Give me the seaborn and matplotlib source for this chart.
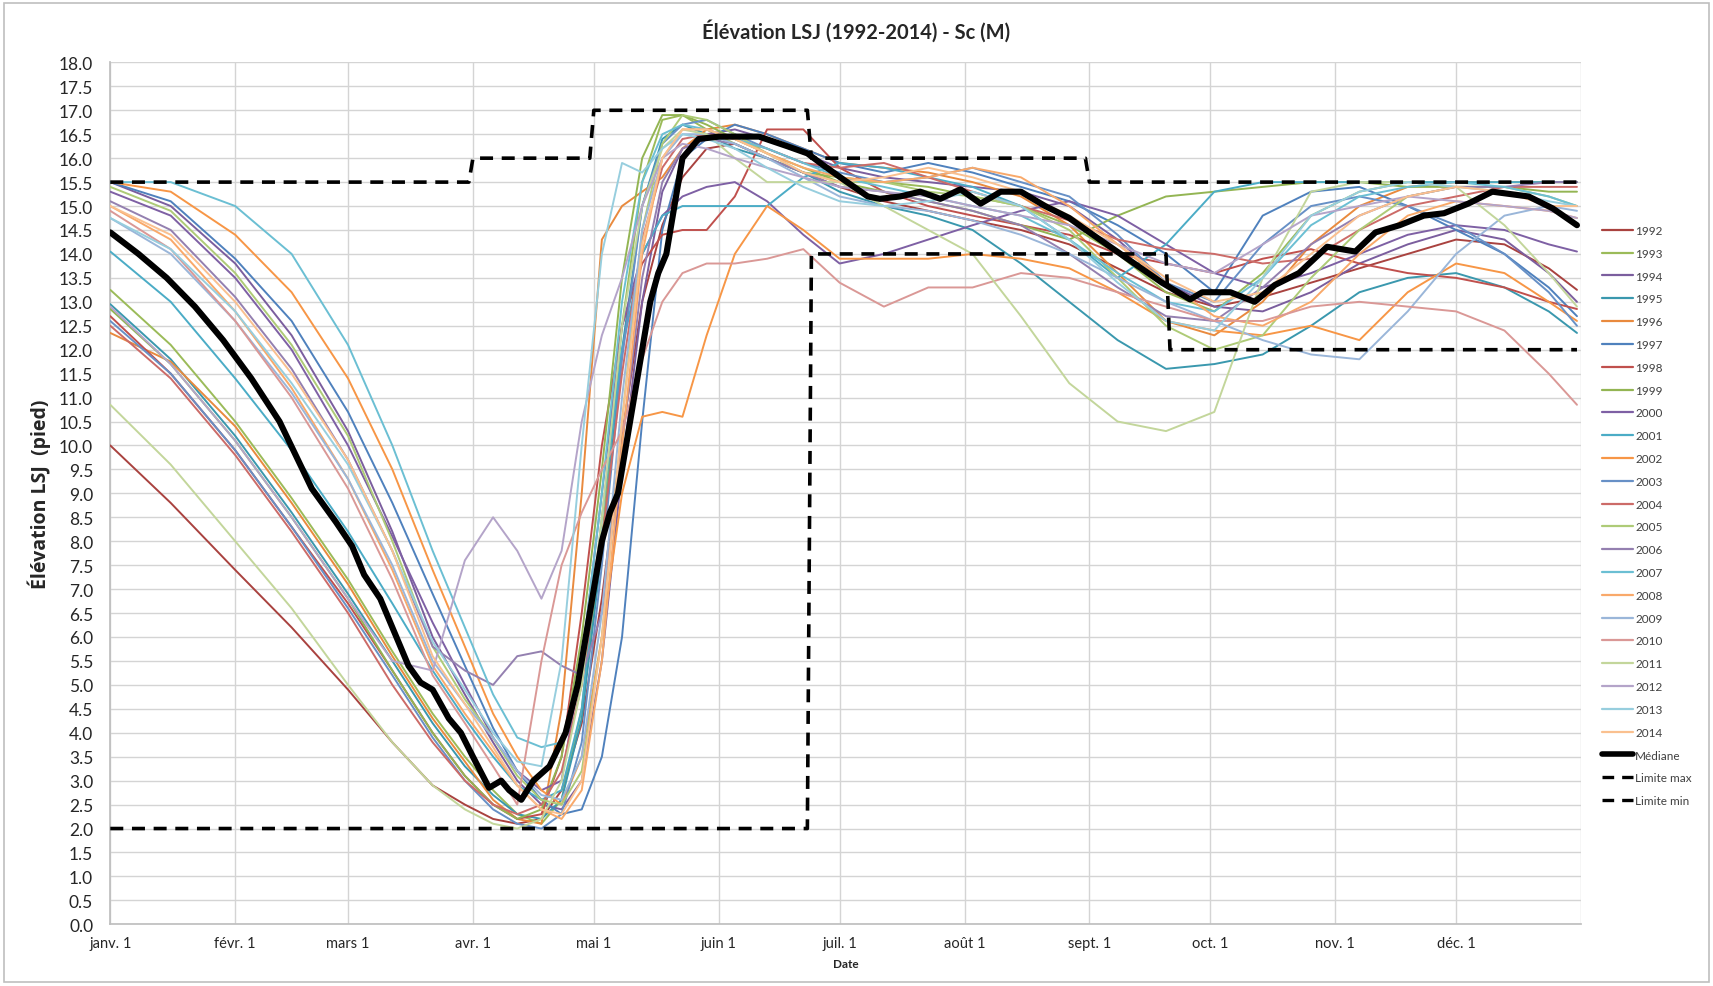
import numpy as np
import pandas as pd
import matplotlib
matplotlib.use("Agg")
import matplotlib.pyplot as plt
from matplotlib.lines import Line2D
from matplotlib.patches import Rectangle
import seaborn as sns

# ---------------- data ----------------
DAYS = [0, 15, 31, 45, 59, 70, 80, 88, 95, 101, 107, 112, 117, 122, 127, 132, 137, 142, 148, 155,
        163, 172, 181, 192, 203, 214, 226, 238, 250, 262, 274, 286, 298, 310, 322, 334, 346, 357, 364]

y1992 = [10.0, 8.8, 7.4, 6.2, 4.9, 3.8, 2.9, 2.5, 2.2, 2.1, 2.2, 2.8, 4.2, 6.8, 10.2, 13.0, 14.6, 15.6, 16.2, 16.3,
         16.0, 15.7, 15.4, 15.1, 14.9, 14.7, 14.5, 14.2, 13.7, 13.2, 12.9, 13.1, 13.4, 13.7, 14.0, 14.3, 14.2, 13.7, 13.25]
y1993 = [13.25, 12.1, 10.5, 8.9, 7.2, 5.7, 4.4, 3.5, 2.8, 2.3, 2.1, 2.6, 4.5, 8.0, 12.5, 15.5, 16.8, 16.9, 16.6, 16.3,
         16.0, 15.7, 15.6, 15.5, 15.4, 15.2, 15.0, 14.6, 14.0, 13.2, 12.8, 13.6, 14.8, 15.3, 15.5, 15.5, 15.5, 15.5, 15.5]
y1994 = [15.5, 15.0, 13.8, 12.3, 10.3, 8.2, 6.0, 4.8, 3.8, 3.0, 2.5, 2.4, 3.0, 5.5, 9.5, 13.0, 15.3, 16.2, 16.5, 16.6,
         16.4, 16.1, 15.8, 15.6, 15.5, 15.4, 15.3, 15.0, 14.3, 13.4, 12.9, 12.8, 13.2, 13.8, 14.2, 14.5, 14.3, 13.6, 13.0]
y1995 = [12.95, 11.8, 10.2, 8.6, 6.9, 5.5, 4.2, 3.3, 2.7, 2.3, 2.2, 2.6, 4.3, 7.8, 12.0, 15.0, 16.4, 16.7, 16.5, 16.2,
         16.0, 15.7, 15.3, 15.0, 14.8, 14.5, 13.8, 13.0, 12.2, 11.6, 11.7, 11.9, 12.5, 13.2, 13.5, 13.6, 13.3, 12.8, 12.35]
y1996 = [12.35, 11.75, 10.4, 8.8, 7.1, 5.6, 4.3, 3.4, 2.6, 2.2, 2.1, 4.5, 9.0, 14.3, 15.0, 15.3, 15.6, 16.2, 16.6, 16.7,
         16.5, 16.2, 15.9, 15.8, 15.7, 15.5, 15.2, 14.6, 13.6, 12.6, 12.3, 13.0, 14.2, 15.0, 15.4, 15.5, 15.5, 15.5, 15.5]
y1997 = [15.5, 15.1, 13.9, 12.6, 10.7, 8.8, 6.9, 5.4, 4.1, 3.2, 2.6, 2.3, 2.4, 3.5, 6.0, 10.5, 14.5, 16.0, 16.4, 16.7,
         16.5, 16.2, 15.9, 15.7, 15.9, 15.7, 15.4, 15.1, 14.6, 14.0, 13.2, 14.8, 15.3, 15.4, 15.0, 14.5, 14.0, 13.3, 12.7]
y1998 = [12.7, 11.5, 9.9, 8.3, 6.7, 5.3, 4.0, 3.1, 2.5, 2.2, 2.3, 3.5, 6.5, 10.0, 12.5, 13.8, 14.4, 14.5, 14.5, 15.2,
         16.6, 16.6, 15.8, 15.3, 15.0, 14.8, 14.6, 14.4, 14.0, 13.8, 13.6, 13.9, 14.1, 13.8, 13.6, 13.5, 13.3, 13.0, 12.85]
y1999 = [12.85, 11.7, 10.1, 8.5, 6.8, 5.3, 4.0, 3.1, 2.5, 2.2, 2.4, 3.5, 6.0, 9.5, 13.5, 16.0, 16.9, 16.9, 16.7, 16.4,
         16.1, 15.8, 15.5, 15.3, 15.1, 14.9, 14.6, 14.3, 14.8, 15.2, 15.3, 15.4, 15.5, 15.5, 15.4, 15.4, 15.4, 15.3, 15.3]
y2000 = [15.3, 14.8, 13.5, 12.0, 10.0, 8.1, 6.3, 5.0, 3.9, 3.2, 2.8, 3.0, 5.5, 9.0, 12.5, 14.0, 14.8, 15.2, 15.4, 15.5,
         15.1, 14.4, 13.8, 14.0, 14.3, 14.6, 14.9, 15.1, 14.8, 14.2, 13.6, 13.3, 13.6, 14.0, 14.4, 14.6, 14.5, 14.2, 14.05]
y2001 = [14.05, 13.0, 11.4, 9.9, 8.2, 6.7, 5.3, 4.3, 3.5, 2.9, 2.6, 2.8, 4.5, 8.5, 12.0, 14.0, 14.8, 15.0, 15.0, 15.0,
         15.0, 15.6, 15.9, 15.8, 15.6, 15.4, 15.0, 14.3, 13.5, 14.2, 15.3, 15.5, 15.5, 15.5, 15.5, 15.5, 15.5, 15.5, 15.5]
y2002 = [15.5, 15.3, 14.4, 13.2, 11.4, 9.5, 7.4, 5.8, 4.4, 3.5, 2.8, 2.5, 3.5, 6.0, 9.0, 10.6, 10.7, 10.6, 12.3, 14.0,
         15.0, 14.5, 13.9, 13.9, 13.9, 14.0, 13.9, 13.7, 13.2, 12.6, 12.4, 12.3, 12.5, 12.2, 13.2, 13.8, 13.6, 13.0, 12.6]
y2003 = [12.6, 11.5, 9.9, 8.3, 6.6, 5.2, 3.9, 3.0, 2.4, 2.1, 2.0, 2.3, 3.8, 7.5, 11.8, 15.0, 16.3, 16.7, 16.8, 16.5,
         16.2, 15.9, 15.7, 15.5, 15.6, 15.8, 15.5, 15.2, 14.4, 13.4, 13.0, 14.2, 15.0, 15.2, 15.0, 14.6, 14.0, 13.2, 12.5]
y2004 = [12.5, 11.4, 9.8, 8.2, 6.5, 5.0, 3.8, 3.0, 2.5, 2.3, 2.5, 3.2, 5.0, 8.0, 11.5, 14.3, 15.8, 16.4, 16.5, 16.4,
         16.2, 15.9, 15.8, 15.9, 15.6, 15.3, 15.0, 14.7, 14.3, 14.1, 14.0, 13.8, 13.9, 14.5, 15.0, 15.2, 15.4, 15.4, 15.4]
y2005 = [15.4, 14.9, 13.6, 12.1, 10.2, 8.0, 5.8, 4.7, 3.9, 3.1, 2.6, 2.5, 3.2, 6.0, 10.5, 14.5, 16.3, 16.9, 16.8, 16.5,
         16.1, 15.7, 15.5, 15.5, 15.3, 15.2, 15.0, 14.5, 13.5, 12.5, 12.0, 12.3, 13.5, 14.5, 15.2, 15.4, 15.4, 15.2, 15.0]
y2006 = [15.1, 14.5, 13.1, 11.6, 9.7, 7.8, 5.8, 5.3, 5.0, 5.6, 5.7, 5.4, 5.2, 6.5, 10.0, 13.5, 15.5, 16.2, 16.4, 16.3,
         16.0, 15.7, 15.4, 15.3, 15.1, 14.9, 14.6, 14.0, 13.3, 12.7, 12.6, 13.3, 14.2, 14.8, 15.2, 15.4, 15.4, 15.5, 15.5]
y2007 = [15.5, 15.5, 15.0, 14.0, 12.1, 10.0, 7.8, 6.2, 4.8, 3.9, 3.7, 3.8, 5.5, 9.0, 13.0, 15.5, 16.5, 16.7, 16.6, 16.4,
         16.2, 15.9, 15.6, 15.4, 15.2, 15.0, 14.8, 14.3, 13.6, 13.0, 12.8, 13.5, 14.6, 15.2, 15.4, 15.5, 15.4, 15.2, 15.0]
y2008 = [15.0, 14.3, 12.8, 11.2, 9.3, 7.4, 5.4, 4.4, 3.6, 2.9, 2.4, 2.2, 2.8, 5.5, 10.0, 14.0, 16.0, 16.6, 16.6, 16.4,
         16.1, 15.8, 15.6, 15.5, 15.6, 15.8, 15.6, 15.0, 14.2, 13.4, 12.7, 12.5, 13.0, 14.0, 14.8, 15.1, 15.0, 14.9, 14.75]
y2009 = [14.75, 14.0, 12.6, 11.1, 9.3, 7.5, 5.5, 4.6, 3.9, 3.2, 2.7, 2.6, 3.5, 6.5, 11.0, 14.5, 16.0, 16.5, 16.5, 16.3,
         16.0, 15.6, 15.2, 15.0, 14.9, 14.7, 14.4, 14.0, 13.5, 13.0, 12.6, 12.2, 11.9, 11.8, 12.8, 14.0, 14.8, 15.0, 14.9]
y2010 = [14.9, 14.1, 12.6, 11.0, 9.1, 7.2, 5.2, 4.2, 3.3, 2.5, 5.5, 7.5, 8.6, 9.5, 10.3, 11.8, 13.0, 13.6, 13.8, 13.8,
         13.9, 14.1, 13.4, 12.9, 13.3, 13.3, 13.6, 13.5, 13.2, 12.9, 12.6, 12.6, 12.9, 13.0, 12.9, 12.8, 12.4, 11.5, 10.85]
y2011 = [10.85, 9.6, 8.0, 6.6, 5.0, 3.8, 2.9, 2.4, 2.1, 2.0, 2.2, 3.0, 5.0, 8.5, 12.5, 15.0, 16.2, 16.6, 16.5, 16.0,
         15.5, 15.5, 15.5, 15.0, 14.5, 14.0, 12.7, 11.3, 10.5, 10.3, 10.7, 13.5, 15.3, 15.5, 15.5, 15.4, 14.6, 13.6, 12.9]
y2012 = [12.9, 11.7, 10.1, 8.5, 6.8, 5.5, 5.3, 7.6, 8.5, 7.8, 6.8, 7.8, 10.5, 12.3, 13.5, 15.0, 16.0, 16.3, 16.2, 16.0,
         15.8, 15.6, 15.4, 15.3, 15.2, 15.0, 14.8, 14.6, 14.2, 13.8, 13.6, 14.2, 14.8, 15.0, 15.2, 15.1, 15.0, 14.9, 14.75]
y2013 = [14.75, 14.1, 12.8, 11.3, 9.6, 7.8, 5.9, 4.9, 4.0, 3.4, 3.3, 5.5, 10.0, 14.0, 15.9, 15.7, 16.2, 16.5, 16.4, 16.2,
         15.8, 15.4, 15.1, 15.0, 15.1, 15.3, 15.0, 14.3, 13.4, 12.6, 12.4, 13.5, 14.8, 15.3, 15.5, 15.4, 15.3, 15.1, 15.0]
y2014 = [15.0, 14.4, 13.0, 11.5, 9.7, 7.8, 5.6, 4.6, 3.7, 2.9, 2.4, 2.3, 3.0, 6.0, 10.5, 14.2, 16.0, 16.6, 16.6, 16.4,
         16.1, 15.7, 15.5, 15.6, 15.8, 15.6, 15.3, 14.8, 14.2, 13.5, 13.0, 13.2, 14.0, 14.8, 15.2, 15.4, 15.3, 15.0, 15.0]

YEARS = ["1992", "1993", "1994", "1995", "1996", "1997", "1998", "1999", "2000", "2001", "2002", "2003",
         "2004", "2005", "2006", "2007", "2008", "2009", "2010", "2011", "2012", "2013", "2014"]
SERIES = [y1992, y1993, y1994, y1995, y1996, y1997, y1998, y1999, y2000, y2001, y2002, y2003,
          y2004, y2005, y2006, y2007, y2008, y2009, y2010, y2011, y2012, y2013, y2014]

MED_DAYS = [0, 7, 14, 21, 28, 35, 42, 50, 56, 60, 63, 67, 71, 74, 77, 80, 84, 87, 90, 94, 97, 99, 102, 105,
            109, 113, 116, 118, 120, 122, 124, 126, 128, 130, 132, 134, 136, 138, 140, 142, 144, 146, 151, 156,
            161, 168, 173, 177, 182, 188, 191, 196, 201, 206, 211, 216, 221, 226, 232, 238, 243, 249, 255, 261,
            268, 271, 278, 284, 289, 295, 302, 309, 314, 320, 326, 331, 337, 343, 352, 358, 364]
MEDIANE = [14.45, 14.0, 13.5, 12.9, 12.2, 11.4, 10.5, 9.1, 8.4, 7.9, 7.3, 6.8, 6.0, 5.4, 5.05, 4.9, 4.3, 4.0,
           3.5, 2.85, 3.0, 2.8, 2.6, 3.0, 3.3, 4.0, 5.0, 6.0, 7.0, 8.0, 8.6, 9.0, 10.0, 11.0, 12.0, 13.0, 13.6,
           14.0, 15.0, 16.0, 16.2, 16.4, 16.45, 16.45, 16.45, 16.25, 16.1, 15.85, 15.55, 15.2, 15.15, 15.2,
           15.3, 15.15, 15.35, 15.05, 15.3, 15.3, 15.0, 14.75, 14.45, 14.1, 13.75, 13.4, 13.05, 13.2, 13.2,
           13.0, 13.35, 13.6, 14.15, 14.05, 14.45, 14.6, 14.8, 14.85, 15.05, 15.3, 15.2, 14.95, 14.6]

LIM_MAX_DAYS = [0, 89, 90, 119, 120, 173, 174, 242, 243, 364]
LIM_MAX = [15.5, 15.5, 16.0, 16.0, 17.0, 17.0, 16.0, 16.0, 15.5, 15.5]
LIM_MIN_DAYS = [0, 173, 174, 262, 263, 364]
LIM_MIN = [2.0, 2.0, 14.0, 14.0, 12.0, 12.0]

MONTH_DAYS = [0, 31, 59, 90, 120, 151, 181, 212, 243, 273, 304, 334, 365]
MONTH_LABELS = ["janv. 1", "févr. 1", "mars 1", "avr. 1", "mai 1", "juin 1", "juil. 1", "août 1",
                "sept. 1", "oct. 1", "nov. 1", "déc. 1", ""]

COLORS = ["#A9423F", "#9BBB59", "#7B5E9E", "#3A98AE", "#E98A3E", "#4F81BD", "#C0504D", "#93B553",
          "#7E60A4", "#4BACC6", "#F79646", "#6790C6", "#CC6B68", "#AECB77", "#9480B0", "#6BBFD3",
          "#F9A96A", "#9AB6D9", "#DA9896", "#C3D69B", "#B4A4C9", "#97CEDE", "#FAC08F"]

# ---------------- figure ----------------
sns.set_theme(style="white")
plt.rcParams["font.family"] = ["Lato", "DejaVu Sans"]

W, H = 1713, 987
fig = plt.figure(figsize=(W / 100, H / 100), dpi=100)
ax = fig.add_axes([110.3 / W, 1 - 925.3 / H, (1581.0 - 110.3) / W, (925.3 - 63.4) / H])

long = pd.DataFrame({
    "day": np.tile(DAYS, len(YEARS)),
    "value": np.concatenate([np.asarray(s, float) for s in SERIES]),
    "year": np.repeat(YEARS, len(DAYS)),
})
sns.lineplot(data=long, x="day", y="value", hue="year", hue_order=YEARS,
             palette=dict(zip(YEARS, COLORS)), estimator=None, linewidth=1.4,
             legend=False, ax=ax, zorder=3)

sns.lineplot(x=LIM_MAX_DAYS, y=LIM_MAX, color="black", linewidth=2.6, ax=ax,
             estimator=None, zorder=5).lines[-1].set_dashes((3.6, 2.4))
sns.lineplot(x=LIM_MIN_DAYS, y=LIM_MIN, color="black", linewidth=2.6, ax=ax,
             estimator=None, zorder=5).lines[-1].set_dashes((3.6, 2.4))
sns.lineplot(x=MED_DAYS, y=MEDIANE, color="black", linewidth=4.4, ax=ax,
             estimator=None, zorder=6)

ax.set_xlim(0, 365)
ax.set_ylim(0, 18)
ax.set_xticks(MONTH_DAYS)
ax.set_xticklabels(MONTH_LABELS, fontsize=10.5)
ax.set_yticks(np.arange(0, 18.01, 0.5))
ax.set_yticklabels([f"{v:.1f}" for v in np.arange(0, 18.01, 0.5)], fontsize=12.5)
ax.grid(True, color="#D4D4D4", linewidth=1.0, zorder=0)
ax.set_axisbelow(True)
for s in ax.spines.values():
    s.set_visible(False)
ax.spines["left"].set_visible(True)
ax.spines["left"].set_color("#BFBFBF")
ax.spines["bottom"].set_visible(True)
ax.spines["bottom"].set_color("#BFBFBF")
ax.tick_params(axis="x", length=4.3, color="#BFBFBF", pad=4)
ax.tick_params(axis="y", length=4.3, color="#BFBFBF", pad=8)
ax.set_xlabel("Date", fontsize=8.5, fontweight="bold", labelpad=6)
ax.set_ylabel("Élévation LSJ  (pied)", fontsize=14, fontweight="bold", labelpad=6,
              family=["Open Sans", "DejaVu Sans"])

fig.text(0.5, 1 - 31 / H, "Élévation LSJ (1992-2014) - Sc (M)", ha="center", va="center",
         fontsize=14.5, fontweight="bold")

# legend
handles = [Line2D([], [], color=c, linewidth=1.6) for c in COLORS]
handles.append(Line2D([], [], color="black", linewidth=4.0))
handles.append(Line2D([], [], color="black", linewidth=2.4, dashes=(3.5, 2.4)))
handles.append(Line2D([], [], color="black", linewidth=2.4, dashes=(3.5, 2.4)))
labels = YEARS + ["Médiane", "Limite max", "Limite min"]
leg = fig.legend(handles, labels, loc="upper left", bbox_to_anchor=(1602 / W, 1 - 226 / H),
                 frameon=False, fontsize=8.5, handlelength=2.6, handletextpad=0.2,
                 labelspacing=1.0, borderaxespad=0, borderpad=0)
for t in leg.get_texts():
    t.set_color("#404040")

fig.patches.append(Rectangle((4 / W, 4 / H), 1 - 8 / W, 1 - 8 / H, transform=fig.transFigure,
                             fill=False, edgecolor="#BFBFBF", linewidth=1.2))

fig.savefig("out.png", dpi=100, facecolor="white")
